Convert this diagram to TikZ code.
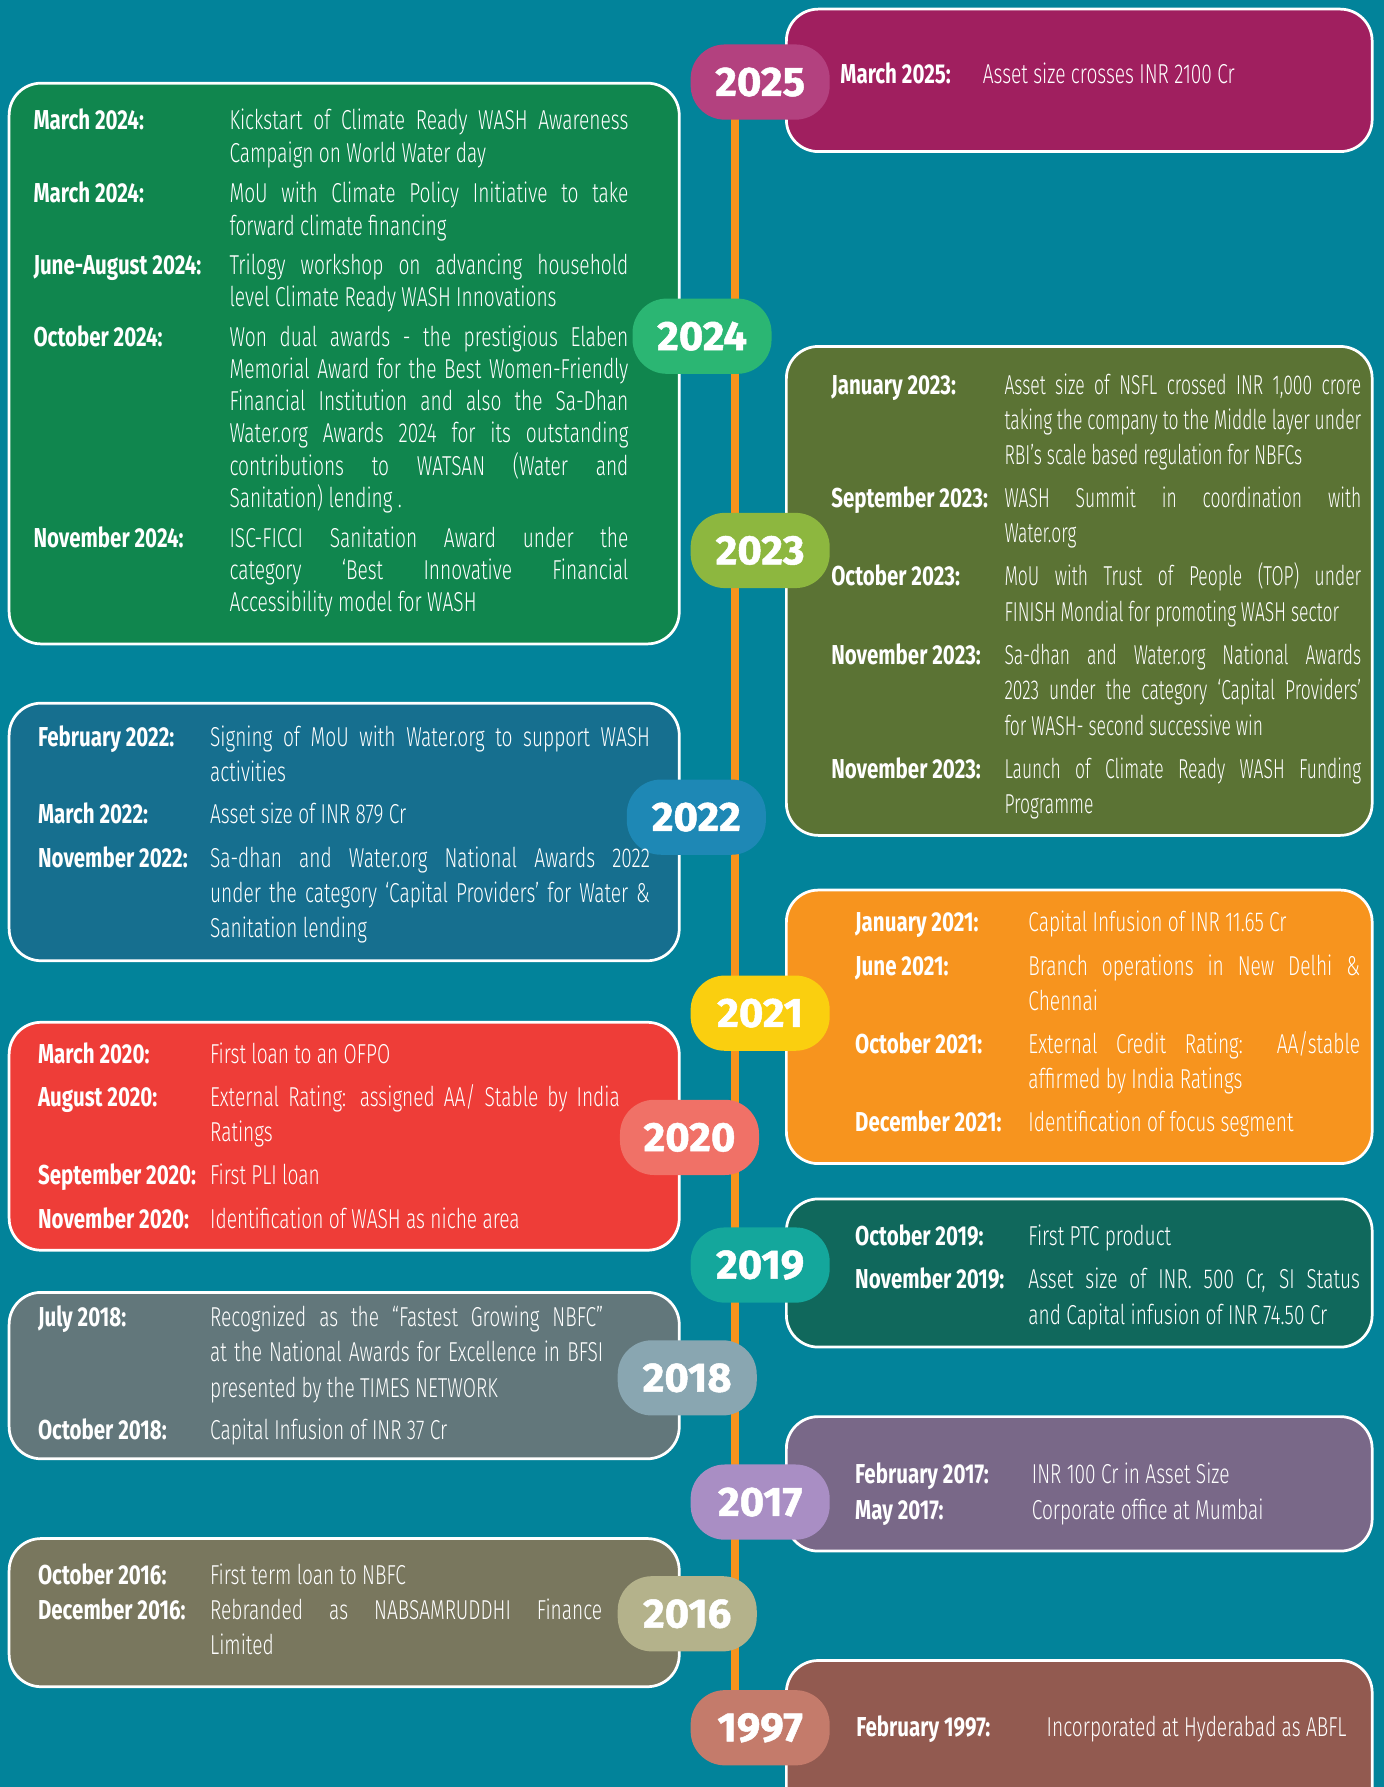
\documentclass[tikz,border=0pt]{standalone}
\usepackage{fontspec}
\setmainfont{Fira Sans}[UprightFont=* Light,BoldFont=* Bold,FakeStretch=0.7]
\newfontfamily\labelfont{Fira Sans}[FakeStretch=0.75]
\newfontfamily\yearfont{Fira Sans}[FakeStretch=1.02,FakeBold=1.2]
\newfontfamily\squeezed{Fira Sans Light}[FakeStretch=0.64]
\usetikzlibrary{fit}
\hyphenpenalty=10000
\exhyphenpenalty=10000
\definecolor{bgteal}{HTML}{02839A}
\definecolor{lineorange}{HTML}{F7941D}
\definecolor{card2025}{HTML}{A01F5F}\definecolor{pill2025}{HTML}{B3417F}
\definecolor{card2024}{HTML}{10864E}\definecolor{pill2024}{HTML}{2BB673}
\definecolor{card2023}{HTML}{5B7334}\definecolor{pill2023}{HTML}{8DB73F}
\definecolor{card2022}{HTML}{166F8F}\definecolor{pill2022}{HTML}{1E88B5}
\definecolor{card2021}{HTML}{F7941E}\definecolor{pill2021}{HTML}{FACF0F}
\definecolor{card2020}{HTML}{EE3D38}\definecolor{pill2020}{HTML}{F07167}
\definecolor{card2019}{HTML}{10685C}\definecolor{pill2019}{HTML}{14A79C}
\definecolor{card2018}{HTML}{62777B}\definecolor{pill2018}{HTML}{89A6B1}
\definecolor{card2017}{HTML}{796888}\definecolor{pill2017}{HTML}{A98EC4}
\definecolor{card2016}{HTML}{79775E}\definecolor{pill2016}{HTML}{B4B28B}
\definecolor{card1997}{HTML}{925A50}\definecolor{pill1997}{HTML}{C47B6B}
\begin{document}
\begin{tikzpicture}[x=0.5pt,y=-0.5pt,
    card/.style={draw=white,line width=1.2pt,rounded corners=14pt,inner sep=0pt},
    badge/.style={rounded corners=15pt,minimum width=61pt,minimum height=33pt,inner sep=0pt,text=white,font=\yearfont\bfseries\fontsize{18}{18}\selectfont},
    spine/.style={draw=lineorange,line width=3.5pt},
    lbl/.style={anchor=base west,inner sep=0pt,text=white,font=\labelfont\bfseries\fontsize{12}{15.5}\selectfont},
    txt/.style={anchor=base west,inner sep=0pt,text=white,font=\fontsize{12}{15.5}\selectfont},
    para/.style={txt,align=justify,text width=#1},
    tightpara/.style={para=#1,font=\fontsize{12}{14.1}\selectfont}]
  \useasboundingbox (0,0) rectangle (1214,1568);
  \fill[bgteal] (0,0) rectangle (1214,1568);

  % cards
  \foreach \yr/\xa/\ya/\xb/\yb in {2025/690/8/1204/133,2024/8/73/596/565,2023/690/304/1204/733,
      2022/8/617/596/843,2021/690/781/1204/1021,2020/8/897/596/1097,2019/690/1052/1204/1182,
      2018/8/1134/596/1280,2017/690/1243/1204/1361,2016/8/1350/596/1480,1997/690/1457/1204/1600}
    \node[card,fill=card\yr,fit={(\xa,\ya) (\xb,\yb)}] (c\yr) {};

  % timeline
  \coordinate (top) at (645,100);
  \coordinate (bottom) at (645,1500);
  \draw[spine] (top) -- (bottom);

  % year badges
  \foreach \yr/\x/\y in {2025/667/72,2024/616/295,2023/667/483,2022/611/717,2021/667/889,
      2020/605/998,2019/667/1110,2018/603/1209,2017/667/1318,2016/603/1416,1997/667/1516}
    \node[badge,fill=pill\yr] (y\yr) at (\x,\y) {\yr};

  % 2025
  \node[lbl] (l25a) at (737,73) {March 2025:};
  \node[txt] (t25a) at (862,73) {Asset size crosses INR 2100 Cr};

  % 2024
  \node[lbl] (l24a) at (29,114) {March 2024:};
  \node[tightpara=175pt] (t24a) at (201,114) {Kickstart of Climate Ready WASH Awareness\linebreak Campaign on World Water day};
  \node[lbl] (l24b) at (29,178) {March 2024:};
  \node[tightpara=175pt] (t24b) at (201,178) {MoU with Climate Policy Initiative to take\linebreak forward climate financing};
  \node[lbl] (l24c) at (29,241) {June-August 2024:};
  \node[tightpara=175pt] (t24c) at (201,241) {Trilogy workshop on advancing household\linebreak level Climate Ready WASH Innovations};
  \node[lbl] (l24d) at (29,304) {October 2024:};
  \node[tightpara=175pt] (t24d) at (201,304) {Won dual awards - the prestigious Elaben\linebreak Memorial Award for the Best Women-Friendly\linebreak Financial Institution and also the Sa-Dhan\linebreak Water.org Awards 2024 for its outstanding\linebreak contributions to WATSAN (Water and\linebreak Sanitation) lending .};
  \node[lbl] (l24e) at (29,480) {November 2024:};
  \node[tightpara=175pt] (t24e) at (201,480) {ISC-FICCI Sanitation Award under the\linebreak category ‘Best Innovative Financial\linebreak Accessibility model for WASH};

  % 2023
  \node[lbl] (l23a) at (729,346) {January 2023:};
  \node[para=156.5pt,font=\squeezed\fontsize{12}{15.5}\selectfont] (t23a) at (881,346) {Asset size of NSFL crossed INR 1,000 crore\linebreak taking the company to the Middle layer under\linebreak RBI’s scale based regulation for NBFCs};
  \node[lbl] (l23b) at (729,445) {September 2023:};
  \node[para=156.5pt,font=\squeezed\fontsize{12}{15.5}\selectfont] (t23b) at (881,445) {WASH Summit in coordination with\linebreak Water.org};
  \node[lbl] (l23c) at (729,514) {October 2023:};
  \node[para=156.5pt,font=\squeezed\fontsize{12}{15.5}\selectfont] (t23c) at (881,514) {MoU with Trust of People (TOP) under\linebreak FINISH Mondial for promoting WASH sector};
  \node[lbl] (l23d) at (729,583) {November 2023:};
  \node[para=156.5pt,font=\squeezed\fontsize{12}{15.5}\selectfont] (t23d) at (881,583) {Sa-dhan and Water.org National Awards\linebreak 2023 under the category ‘Capital Providers’\linebreak for WASH- second successive win};
  \node[lbl] (l23e) at (729,683) {November 2023:};
  \node[para=156.5pt,font=\squeezed\fontsize{12}{15.5}\selectfont] (t23e) at (881,683) {Launch of Climate Ready WASH Funding\linebreak Programme};

  % 2022
  \node[lbl] (l22a) at (33,655) {February 2022:};
  \node[para=193pt] (t22a) at (184,655) {Signing of MoU with Water.org to support WASH\linebreak activities};
  \node[lbl] (l22b) at (33,723) {March 2022:};
  \node[txt] (t22b) at (184,723) {Asset size of INR 879 Cr};
  \node[lbl] (l22c) at (33,761) {November 2022:};
  \node[para=193pt] (t22c) at (184,761) {Sa-dhan and Water.org National Awards 2022\linebreak under the category ‘Capital Providers’ for Water \&\linebreak Sanitation lending};

  % 2021
  \node[lbl] (l21a) at (750,817) {January 2021:};
  \node[txt] (t21a) at (902,817) {Capital Infusion of INR 11.65 Cr};
  \node[lbl] (l21b) at (750,856) {June 2021:};
  \node[para=145.5pt] (t21b) at (902,856) {Branch operations in New Delhi \&\linebreak Chennai};
  \node[lbl] (l21c) at (750,924) {October 2021:};
  \node[para=145.5pt] (t21c) at (902,924) {External Credit Rating: AA/stable\linebreak affirmed by India Ratings};
  \node[lbl] (l21d) at (750,993) {December 2021:};
  \node[txt] (t21d) at (902,993) {Identification of focus segment};

  % 2020
  \node[lbl] (l20a) at (33,933) {March 2020:};
  \node[txt] (t20a) at (184,933) {First loan to an OFPO};
  \node[lbl] (l20b) at (33,971) {August 2020:};
  \node[para=193pt,align=left] (t20b) at (184,971) {External Rating: assigned AA/ Stable by India\\Ratings};
  \node[lbl] (l20c) at (33,1039) {September 2020:};
  \node[txt] (t20c) at (184,1039) {First PLI loan};
  \node[lbl] (l20d) at (33,1078) {November 2020:};
  \node[txt] (t20d) at (184,1078) {Identification of WASH as niche area};

  % 2019
  \node[lbl] (l19a) at (750,1093) {October 2019:};
  \node[txt] (t19a) at (902,1093) {First PTC product};
  \node[lbl] (l19b) at (750,1131) {November 2019:};
  \node[para=145.5pt] (t19b) at (902,1131) {Asset size of INR. 500 Cr, SI Status\linebreak and Capital infusion of INR 74.50 Cr};

  % 2018
  \node[lbl] (l18a) at (33,1164) {July 2018:};
  \node[para=172.5pt] (t18a) at (184,1164) {Recognized as the “Fastest Growing NBFC”\linebreak at the National Awards for Excellence in BFSI\linebreak presented by the TIMES NETWORK};
  \node[lbl] (l18b) at (33,1263) {October 2018:};
  \node[txt] (t18b) at (184,1263) {Capital Infusion of INR 37 Cr};

  % 2017
  \node[lbl] (l17a) at (750,1302) {February 2017:};
  \node[txt] (t17a) at (905,1302) {INR 100 Cr in Asset Size};
  \node[lbl] (l17b) at (750,1333) {May 2017:};
  \node[txt] (t17b) at (905,1333) {Corporate office at Mumbai};

  % 2016
  \node[lbl] (l16a) at (33,1390) {October 2016:};
  \node[txt] (t16a) at (184,1390) {First term loan to NBFC};
  \node[lbl] (l16b) at (33,1421) {December 2016:};
  \node[para=172pt] (t16b) at (184,1421) {Rebranded as NABSAMRUDDHI Finance\linebreak Limited};

  % 1997
  \node[lbl] (l97a) at (751,1524) {February 1997:};
  \node[txt] (t97a) at (918,1524) {Incorporated at Hyderabad as ABFL};
\end{tikzpicture}
\end{document}
